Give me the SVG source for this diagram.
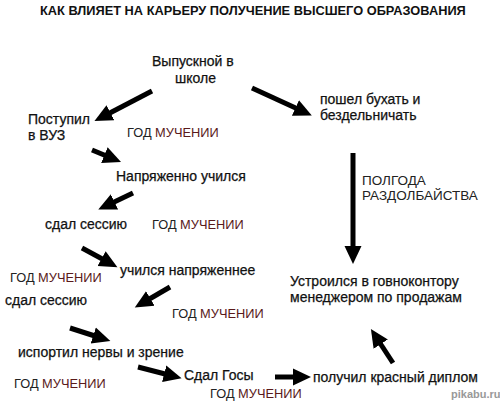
<svg xmlns="http://www.w3.org/2000/svg" width="500" height="404" viewBox="0 0 500 404">
<style>
text{font-family:"Liberation Sans",Arial,sans-serif;fill:#111}
.t{font-size:12.8px;font-weight:bold}
.n{font-size:14px;stroke:#111;stroke-width:0.25}
.g{font-size:12.8px;fill:#222}
.p{font-size:13.5px;fill:#222}
.m{fill:#5a1a1a}
.a{stroke:#000;stroke-width:5;fill:none;marker-end:url(#ah)}
.wm{font-size:11px;fill:#999;font-weight:bold}
</style>
<defs>
<marker id="ah" markerUnits="userSpaceOnUse" markerWidth="19" markerHeight="19" viewBox="0 0 19 19" refX="5" refY="9.5" orient="auto">
<path d="M0,1 L18,9.5 L0,18 z" fill="#000"/>
</marker>
</defs>
<rect width="500" height="404" fill="#fff"/>
<text class="t" x="40" y="15">КАК ВЛИЯЕТ НА КАРЬЕРУ ПОЛУЧЕНИЕ ВЫСШЕГО ОБРАЗОВАНИЯ</text>
<g id="connectors">
<line class="a" x1="152" y1="91" x2="106" y2="115"/>
<line class="a" x1="252" y1="88" x2="300" y2="110"/>
<line class="a" x1="92" y1="150" x2="109" y2="157"/>
<line class="a" x1="133" y1="193" x2="110" y2="204"/>
<line class="a" x1="82" y1="248" x2="106" y2="261"/>
<line class="a" x1="170" y1="287" x2="146" y2="301"/>
<line class="a" x1="70" y1="328" x2="98" y2="337"/>
<line class="a" x1="138" y1="367" x2="169" y2="375"/>
<line class="a" x1="275" y1="377" x2="298" y2="377"/>
<line class="a" x1="393" y1="363" x2="378" y2="340"/>
<line class="a" x1="353" y1="153" x2="353" y2="251"/>
</g>
<g id="n1"><text class="n" x="152" y="66">Выпускной в</text><text class="n" x="175" y="83">школе</text></g>
<g id="n2"><text class="n" x="28" y="124">Поступил</text><text class="n" x="28" y="140">в ВУЗ</text></g>
<g id="l1"><text class="g" x="127" y="137">ГОД <tspan class="m">МУЧЕНИИ</tspan></text></g>
<g id="n3"><text class="n" x="116" y="181">Напряженно учился</text></g>
<g id="n4"><text class="n" x="45" y="229">сдал сессию</text></g>
<g id="l2"><text class="g" x="152" y="229">ГОД <tspan class="m">МУЧЕНИИ</tspan></text></g>
<g id="n5"><text class="n" x="120" y="275">учился напряженнее</text></g>
<g id="l3"><text class="g" x="10" y="282">ГОД <tspan class="m">МУЧЕНИИ</tspan></text></g>
<g id="n6"><text class="n" x="5" y="305">сдал сессию</text></g>
<g id="l4"><text class="g" x="172" y="318">ГОД <tspan class="m">МУЧЕНИИ</tspan></text></g>
<g id="n7"><text class="n" x="18" y="357">испортил нервы и зрение</text></g>
<g id="n8"><text class="n" x="184" y="380">Сдал Госы</text></g>
<g id="l5"><text class="g" x="14" y="388">ГОД <tspan class="m">МУЧЕНИИ</tspan></text></g>
<g id="l6"><text class="g" x="210" y="398">ГОД <tspan class="m">МУЧЕНИИ</tspan></text></g>
<g id="n9"><text class="n" x="313" y="382">получил красный диплом</text></g>
<g id="n10"><text class="n" x="290" y="286">Устроился в говноконтору</text><text class="n" x="290" y="302">менеджером по продажам</text></g>
<g id="n11"><text class="n" x="320" y="104">пошел бухать и</text><text class="n" x="320" y="120">бездельничать</text></g>
<g id="l7"><text class="p" x="362" y="185">ПОЛГОДА</text><text class="p" x="362" y="200">РАЗДОЛБАЙСТВА</text></g>
<text class="wm" x="451" y="398">pikabu.ru</text>
</svg>
